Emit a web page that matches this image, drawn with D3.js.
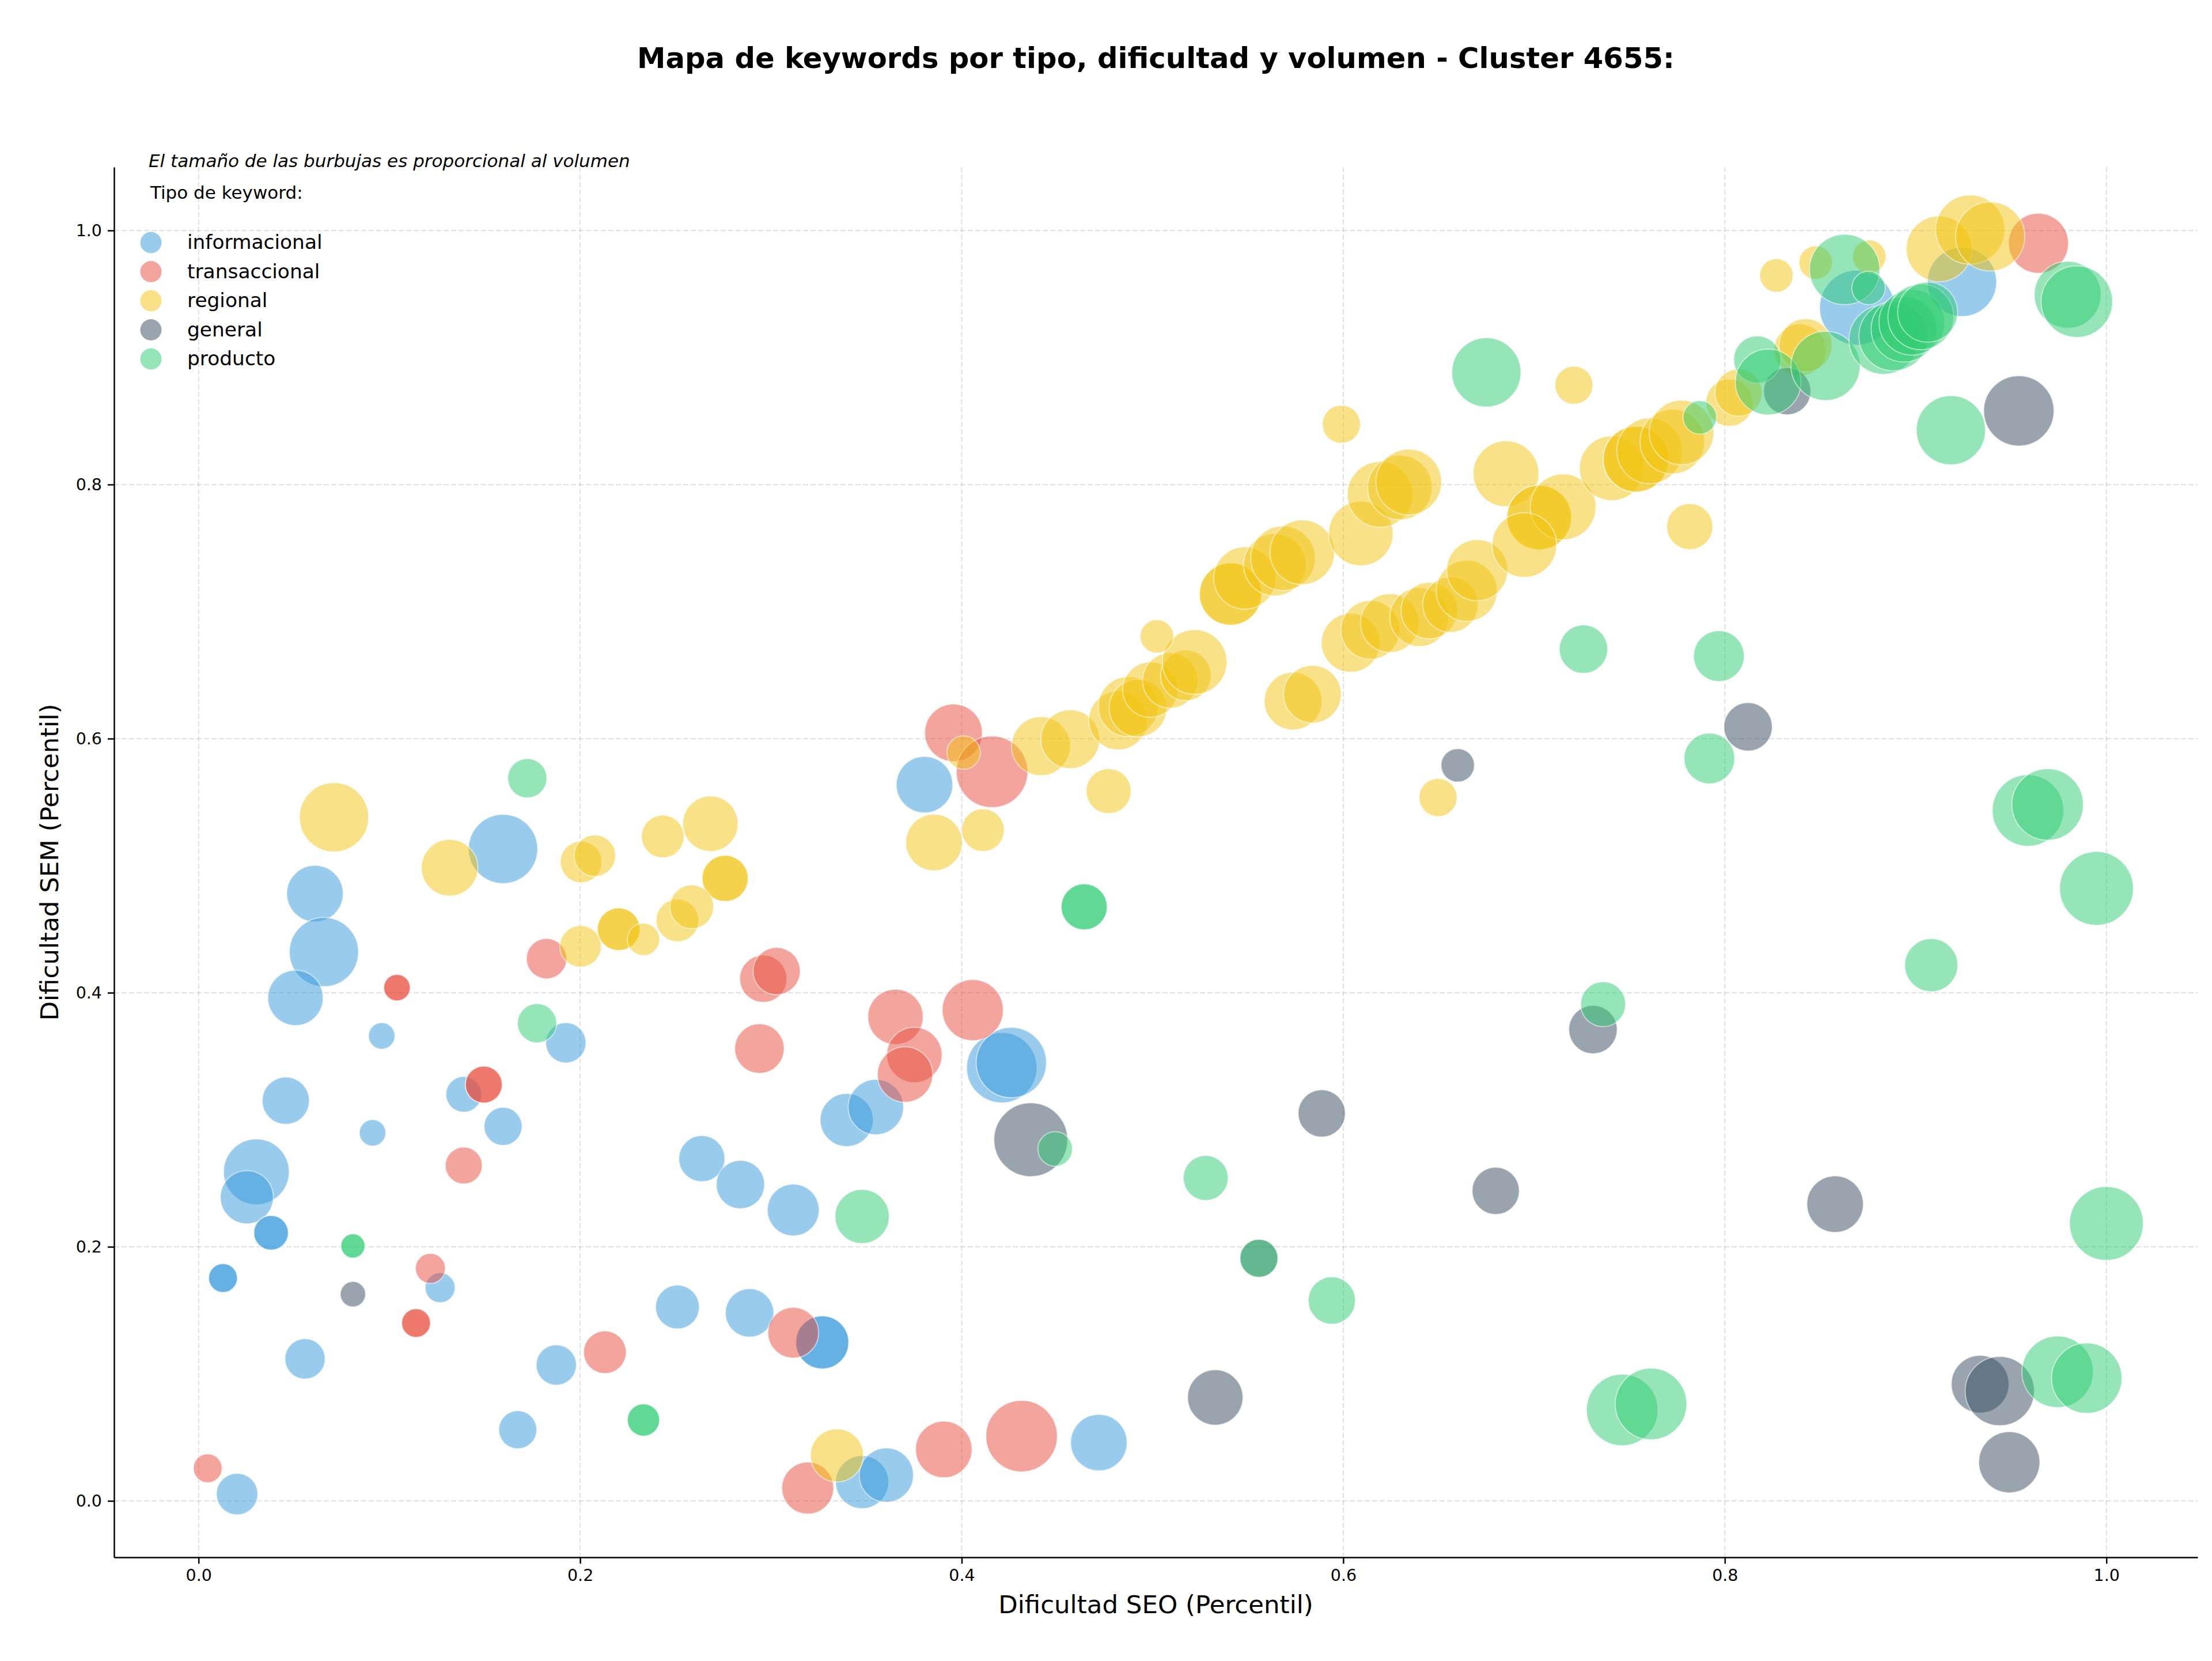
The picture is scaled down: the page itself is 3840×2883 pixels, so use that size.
<!DOCTYPE html>
<html>
<head>
<meta charset="utf-8">
<script src="https://cdn.jsdelivr.net/npm/d3@7"></script>
<style>
  body { margin: 0; background: #fff; }
  text { font-family: "DejaVu Sans", sans-serif; }
</style>
</head>
<body>
<div id="chart"></div>
<script>
// Each keyword: [dificultad SEO, dificultad SEM, volumen]
const categorias = ["informacional", "transaccional", "regional", "general", "producto"];
const colores = ["#3498db", "#e74c3c", "#f1c40f", "#34495e", "#2ecc71"];

const informacional = [
  [0.061, 0.478, 600], [0.0657, 0.432, 900], [0.0508, 0.396, 576], [0.096, 0.366, 132],
  [0.0457, 0.315, 420], [0.139, 0.32, 240], [0.1596, 0.2948, 272], [0.0912, 0.2897, 132],
  [0.0303, 0.259, 812], [0.0253, 0.239, 529], [0.038, 0.211, 225], [0.038, 0.211, 225],
  [0.0128, 0.1754, 156], [0.0128, 0.1754, 156], [0.1266, 0.1678, 169], [0.0558, 0.1118, 306],
  [0.1875, 0.107, 306], [0.1673, 0.056, 272], [0.0202, 0.0054, 324], [0.1925, 0.3606, 306],
  [0.2638, 0.2694, 400], [0.284, 0.249, 441], [0.251, 0.1526, 361], [0.2888, 0.148, 441],
  [0.421, 0.341, 930], [0.426, 0.345, 930], [0.3397, 0.2998, 529], [0.355, 0.31, 576],
  [0.3117, 0.229, 506], [0.3269, 0.1248, 529], [0.3269, 0.1248, 529], [0.3478, 0.0148, 529],
  [0.3605, 0.0203, 552], [0.4719, 0.0459, 600], [0.3805, 0.5638, 600], [0.1596, 0.5132, 900],
  [0.8693, 0.9393, 1056], [0.9243, 0.9595, 900]
];

const transaccional = [
  [0.104, 0.404, 132], [0.104, 0.404, 132], [0.1495, 0.3277, 256], [0.1495, 0.3277, 256],
  [0.139, 0.264, 256], [0.1215, 0.183, 169], [0.114, 0.14, 156], [0.114, 0.14, 156],
  [0.213, 0.117, 342], [0.0048, 0.0257, 156], [0.1824, 0.4268, 306], [0.294, 0.356, 462],
  [0.296, 0.411, 420], [0.303, 0.417, 420], [0.3653, 0.381, 576], [0.3752, 0.351, 576],
  [0.3703, 0.3356, 576], [0.4058, 0.3863, 702], [0.3117, 0.1324, 484], [0.3193, 0.0101, 506],
  [0.3906, 0.0405, 600], [0.4314, 0.051, 961], [0.3957, 0.6046, 625], [0.4159, 0.5739, 961],
  [0.9644, 0.9899, 676]
];

const regional = [
  [0.071, 0.5381, 900], [0.1316, 0.4984, 600], [0.2005, 0.503, 324], [0.2077, 0.5078, 324],
  [0.2433, 0.523, 342], [0.2683, 0.533, 576], [0.276, 0.49, 400], [0.276, 0.49, 400],
  [0.2002, 0.4365, 324], [0.2202, 0.45, 342], [0.2202, 0.45, 342], [0.2332, 0.442, 196],
  [0.251, 0.457, 342], [0.2585, 0.4676, 361], [0.3346, 0.0358, 529], [0.401, 0.589, 210],
  [0.3855, 0.5183, 600], [0.4111, 0.528, 342], [0.4415, 0.5941, 650], [0.4569, 0.5996, 650],
  [0.477, 0.5587, 380], [0.482, 0.6144, 650], [0.4873, 0.6252, 676], [0.4924, 0.6241, 625],
  [0.4989, 0.6386, 576], [0.5093, 0.6458, 576], [0.5175, 0.6498, 484], [0.5221, 0.6603, 784],
  [0.5023, 0.6805, 210], [0.5409, 0.7138, 729], [0.5409, 0.7138, 729], [0.5484, 0.7264, 729],
  [0.5641, 0.7369, 729], [0.5684, 0.742, 784], [0.5785, 0.7467, 784], [0.6092, 0.7615, 784],
  [0.6193, 0.7922, 812], [0.6297, 0.7976, 784], [0.6343, 0.802, 812], [0.599, 0.8475, 272],
  [0.5737, 0.6296, 625], [0.5838, 0.635, 625], [0.6039, 0.6755, 650], [0.6142, 0.6856, 650],
  [0.6244, 0.691, 650], [0.6398, 0.6957, 650], [0.6451, 0.7008, 600], [0.6562, 0.7055, 576],
  [0.6647, 0.7163, 702], [0.6702, 0.7326, 702], [0.6497, 0.5537, 272], [0.6853, 0.8085, 812],
  [0.7027, 0.7741, 784], [0.7027, 0.7741, 784], [0.7152, 0.7824, 812], [0.6949, 0.7524, 784],
  [0.7209, 0.8782, 272], [0.7407, 0.8128, 784], [0.7534, 0.82, 812], [0.7534, 0.82, 812],
  [0.7606, 0.8265, 812], [0.7725, 0.8338, 784], [0.7773, 0.841, 784], [0.7816, 0.7669, 400],
  [0.8024, 0.8645, 420], [0.8072, 0.8724, 420], [0.8394, 0.906, 506], [0.8423, 0.9096, 529],
  [0.827, 0.9646, 210], [0.8476, 0.9747, 210], [0.8757, 0.9794, 210], [0.9123, 0.9855, 812],
  [0.9286, 1.0007, 900], [0.9391, 0.9953, 900]
];

const general = [
  [0.0809, 0.1627, 121], [0.4362, 0.2843, 1024], [0.5887, 0.305, 420], [0.6799, 0.244, 420],
  [0.5558, 0.191, 272], [0.5329, 0.0814, 576], [0.66, 0.579, 210], [0.8327, 0.8735, 420],
  [0.9541, 0.858, 930], [0.8122, 0.6093, 441], [0.7309, 0.371, 441], [0.8578, 0.2336, 600],
  [0.9338, 0.0919, 625], [0.9441, 0.0864, 900], [0.9491, 0.0304, 702]
];

const producto = [
  [0.0809, 0.2007, 110], [0.0809, 0.2007, 110], [0.2332, 0.0637, 196], [0.2332, 0.0637, 196],
  [0.1774, 0.376, 289], [0.1723, 0.5688, 289], [0.4642, 0.4676, 400], [0.4642, 0.4676, 400],
  [0.449, 0.277, 225], [0.3478, 0.2239, 552], [0.5279, 0.2542, 380], [0.5558, 0.191, 272],
  [0.594, 0.1577, 420], [0.675, 0.8883, 900], [0.7869, 0.8529, 210], [0.817, 0.8984, 420],
  [0.8227, 0.8807, 812], [0.8528, 0.8934, 900], [0.8628, 0.9693, 930], [0.8753, 0.9548, 210],
  [0.8832, 0.914, 900], [0.8884, 0.9168, 900], [0.8939, 0.9223, 812], [0.898, 0.9277, 812],
  [0.9027, 0.932, 812], [0.9063, 0.9357, 676], [0.9797, 0.9494, 841], [0.9845, 0.944, 961],
  [0.9185, 0.8428, 900], [0.7259, 0.6704, 441], [0.7969, 0.665, 484], [0.7919, 0.5844, 484],
  [0.9589, 0.5435, 961], [0.9692, 0.5482, 961], [0.9948, 0.4821, 1024], [0.9082, 0.4217, 529],
  [0.7362, 0.391, 380], [1.0, 0.2184, 1024], [0.7462, 0.0716, 961], [0.7613, 0.0763, 961],
  [0.9744, 0.1016, 961], [0.9897, 0.0966, 930]
];

const series = [informacional, transaccional, regional, general, producto];
const xTicks = [0.0, 0.2, 0.4, 0.6, 0.8, 1.0];
const yTicks = [0.0, 0.2, 0.4, 0.6, 0.8, 1.0];

// Figure and axes box
const W = 3840, H = 2883;
const ax = {left: 198, right: 3815, top: 290, bottom: 2703};

const svg = d3.select("#chart").append("svg")
    .attr("width", W)
    .attr("height", H)
    .style("background", "#fff");

const x = d3.scaleLinear().domain([-0.0443, 1.0478]).range([ax.left, ax.right]);
const y = d3.scaleLinear().domain([-0.0444, 1.0499]).range([ax.bottom, ax.top]);
const r = d3.scaleSqrt().domain([0, 1000]).range([0, 63.25]);

// Grid lines
const grid = svg.append("g");
grid.selectAll(".gx").data(xTicks).enter().append("line")
    .attr("x1", d => x(d)).attr("x2", d => x(d))
    .attr("y1", ax.top).attr("y2", ax.bottom);
grid.selectAll(".gy").data(yTicks).enter().append("line")
    .attr("y1", d => y(d)).attr("y2", d => y(d))
    .attr("x1", ax.left).attr("x2", ax.right);
grid.selectAll("line")
    .attr("stroke", "#b0b0b0")
    .attr("stroke-opacity", 0.35)
    .attr("stroke-width", 2.2)
    .attr("stroke-dasharray", "9,4");

// Bubbles, one layer per category in legend order
series.forEach((pts, i) => {
  svg.append("g").selectAll("circle")
    .data(pts)
    .enter().append("circle")
      .attr("cx", d => x(d[0]))
      .attr("cy", d => y(d[1]))
      .attr("r", d => r(d[2]))
      .attr("fill", colores[i])
      .attr("fill-opacity", 0.5)
      .attr("stroke", "#fff")
      .attr("stroke-opacity", 0.5)
      .attr("stroke-width", 2);
});

// Axes
const xAxis = svg.append("g")
    .attr("transform", "translate(0," + ax.bottom + ")")
    .call(d3.axisBottom(x).tickValues(xTicks).tickFormat(d3.format(".1f"))
      .tickSize(11).tickSizeOuter(0).tickPadding(10));
const yAxis = svg.append("g")
    .attr("transform", "translate(" + ax.left + ",0)")
    .call(d3.axisLeft(y).tickValues(yTicks).tickFormat(d3.format(".1f"))
      .tickSize(11).tickSizeOuter(0).tickPadding(10));

[xAxis, yAxis].forEach(g => {
  g.select(".domain").attr("stroke", "#000").attr("stroke-width", 2.5);
  g.selectAll(".tick line").attr("stroke", "#000").attr("stroke-width", 2.5);
  g.selectAll(".tick text")
    .attr("fill", "#000")
    .style("font-family", "DejaVu Sans")
    .style("font-size", "28.5px");
});

// Axis labels
svg.append("text")
    .attr("x", (ax.left + ax.right) / 2)
    .attr("y", 2800)
    .attr("text-anchor", "middle")
    .style("font-size", "43.5px")
    .text("Dificultad SEO (Percentil)");

svg.append("text")
    .attr("transform", "translate(101," + (ax.top + ax.bottom) / 2 + ") rotate(-90)")
    .attr("text-anchor", "middle")
    .style("font-size", "43.5px")
    .text("Dificultad SEM (Percentil)");

// Title
svg.append("text")
    .attr("x", (ax.left + ax.right) / 2)
    .attr("y", 118)
    .attr("text-anchor", "middle")
    .style("font-size", "49.7px")
    .style("font-weight", "bold")
    .text("Mapa de keywords por tipo, dificultad y volumen - Cluster 4655:");

// Note and legend
svg.append("text")
    .attr("x", 258)
    .attr("y", 290)
    .style("font-size", "31px")
    .style("font-style", "italic")
    .text("El tamaño de las burbujas es proporcional al volumen");

svg.append("text")
    .attr("x", 261)
    .attr("y", 345)
    .style("font-size", "31px")
    .text("Tipo de keyword:");

const legend = svg.append("g");
categorias.forEach((c, i) => {
  const cy = 421 + i * 50.5;
  legend.append("circle")
      .attr("cx", 262)
      .attr("cy", cy)
      .attr("r", 18.5)
      .attr("fill", colores[i])
      .attr("fill-opacity", 0.5);
  legend.append("text")
      .attr("x", 325)
      .attr("y", cy + 11)
      .style("font-size", "34.4px")
      .text(c);
});
</script>
</body>
</html>
